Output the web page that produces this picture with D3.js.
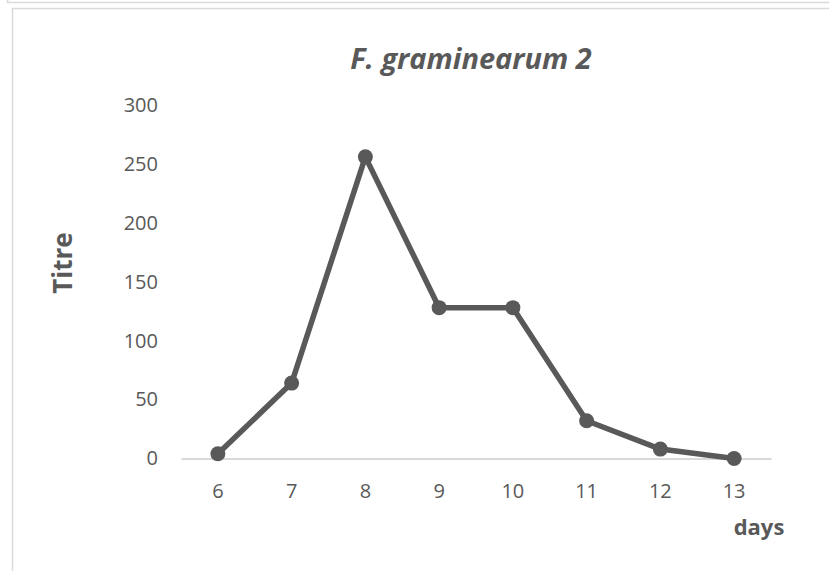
<!DOCTYPE html>
<html><head><meta charset="utf-8">
<script src="https://cdn.jsdelivr.net/npm/d3@7"></script>
<style>body{margin:0;background:#fff}svg{display:block}</style>
</head><body>
<svg id="c" width="829" height="571"></svg>
<script>
const categories = ["6","7","8","9","10","11","12","13"];
const titre = [4, 64, 256, 128, 128, 32, 8, 0];
const yTicks = [0, 50, 100, 150, 200, 250, 300];
const chartTitle = "F. graminearum 2";
const yLabel = "Titre";
const xLabel = "days";

const svg = d3.select("#c");
const font = "'Open Sans', sans-serif";
const gray = "#595959";

// frames
svg.append("path").attr("d","M7.5,0 V2.5 H829").attr("fill","none").attr("stroke","#d9d9d9").attr("stroke-width",1.5);
svg.append("path").attr("d","M12.5,571 V8.5 H829").attr("fill","none").attr("stroke","#d9d9d9").attr("stroke-width",1.5);

const x = d3.scaleBand().domain(categories).range([181, 771]);
const y = d3.scaleLinear().domain([0, 300]).range([458.5, 105]);

// y tick labels
const ya = svg.append("g").attr("transform","translate(181,0)")
  .call(d3.axisLeft(y).tickValues(yTicks).tickSize(0).tickPadding(23));
ya.select(".domain").remove();
ya.selectAll("text").attr("font-family",font).attr("font-size",20).attr("fill",gray);

// x axis
const xa = svg.append("g").attr("transform","translate(0,458.5)")
  .call(d3.axisBottom(x).tickSize(0).tickPadding(25));
xa.select(".domain").attr("stroke","#d9d9d9").attr("stroke-width",2);
xa.selectAll("text").attr("font-family",font).attr("font-size",20).attr("fill",gray);

const data = categories.map((c,i)=>({c, v: titre[i]}));
const line = d3.line().x(d=>x(d.c)+x.bandwidth()/2).y(d=>y(d.v));
svg.append("path").datum(data).attr("d",line).attr("fill","none")
  .attr("stroke",gray).attr("stroke-width",5.5).attr("stroke-linejoin","round");
svg.selectAll("circle.pt").data(data).enter().append("circle")
  .attr("cx",d=>x(d.c)+x.bandwidth()/2).attr("cy",d=>y(d.v)).attr("r",7.5).attr("fill",gray);

svg.append("text").attr("x",471).attr("y",69).attr("text-anchor","middle")
  .attr("font-family",font).attr("font-size",29).attr("font-weight","bold").attr("font-style","italic")
  .attr("fill",gray).text(chartTitle);

svg.append("text").attr("transform","translate(72,263) rotate(-90)").attr("text-anchor","middle")
  .attr("font-family",font).attr("font-size",26).attr("font-weight","bold").attr("fill",gray).text(yLabel);

svg.append("text").attr("x",759).attr("y",535).attr("text-anchor","middle")
  .attr("font-family",font).attr("font-size",22).attr("font-weight","bold").attr("fill",gray).text(xLabel);
</script>
</body></html>
